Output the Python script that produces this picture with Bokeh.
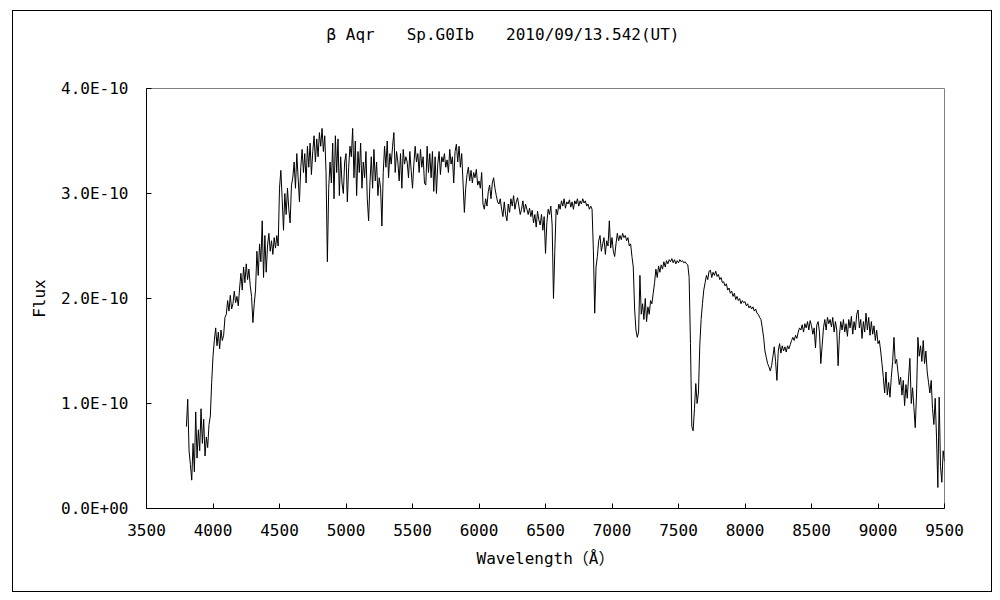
from bokeh.plotting import figure
from bokeh.models import FixedTicker, CustomJSTickFormatter, Range1d, Title
from bokeh.embed import file_html
from bokeh.resources import INLINE

# ---------------- data ----------------
title_text = "β Aqr\u3000\u3000Sp.G0Ib\u3000\u30002010/09/13.542(UT)"
x_label = "Wavelength（Å）"
y_label = "Flux"

x_ticks = [3500, 4000, 4500, 5000, 5500, 6000, 6500, 7000, 7500, 8000, 8500, 9000, 9500]
y_ticks = [0.0, 1e-10, 2e-10, 3e-10, 4e-10]

# sampling grid of the spectrum (Angstrom), 10 A steps
wavelength = list(range(3800, 9501, 10))

# flux in units of 1e-10, one row per 100 A starting at the value in the comment
flux_e10 = [
    0.78, 1.04, 0.55, 0.42, 0.27, 0.62, 0.35, 0.92, 0.48, 0.75,  # 3800
    0.55, 0.95, 0.62, 0.85, 0.50, 0.68, 0.58, 0.80, 0.88, 1.20,  # 3900
    1.45, 1.60, 1.72, 1.55, 1.68, 1.52, 1.70, 1.60, 1.65, 1.82,  # 4000
    1.85, 1.98, 1.88, 2.03, 1.90, 1.95, 2.07, 1.96, 2.02, 1.93,  # 4100
    2.10, 2.24, 2.08, 2.30, 2.15, 2.33, 2.18, 2.28, 2.12, 2.02,  # 4200
    1.77, 1.95, 2.08, 2.45, 2.22, 2.52, 2.35, 2.74, 2.20, 2.60,  # 4300
    2.25, 2.50, 2.62, 2.45, 2.55, 2.42, 2.58, 2.48, 2.60, 2.50,  # 4400
    3.05, 3.22, 2.95, 2.65, 3.00, 2.80, 3.05, 2.85, 2.72, 3.08,  # 4500
    3.15, 3.30, 3.05, 3.38, 3.15, 2.92, 3.25, 3.42, 3.20, 3.38,  # 4600
    3.10, 3.45, 3.25, 3.48, 3.18, 3.40, 3.55, 3.30, 3.52, 3.35,  # 4700
    3.58, 3.45, 3.62, 3.40, 3.55, 3.20, 2.35, 3.05, 3.30, 3.10,  # 4800
    3.48, 2.95, 3.55, 3.20, 3.52, 2.98, 3.35, 3.10, 3.00, 3.30,  # 4900
    3.38, 2.92, 3.25, 3.45, 3.35, 3.62, 3.15, 3.50, 2.98, 3.40,  # 5000
    3.20, 3.48, 3.05, 3.30, 3.15, 3.40, 2.95, 2.74, 3.10, 3.35,  # 5100
    3.05, 3.42, 3.12, 3.30, 2.98, 3.15, 3.05, 2.69, 3.20, 3.45,  # 5200
    3.25, 3.50, 3.15, 3.38, 3.28, 3.45, 3.58, 3.20, 3.40, 3.30,  # 5300
    3.12, 3.38, 3.05, 3.42, 3.28, 3.35, 3.30, 3.15, 3.40, 3.22,  # 5400
    3.05, 3.28, 3.45, 3.30, 3.38, 3.20, 3.42, 3.25, 3.35, 3.10,  # 5500
    3.08, 3.45, 3.20, 3.38, 3.15, 3.40, 3.02, 3.35, 3.00, 3.28,  # 5600
    3.40, 3.18, 3.35, 3.30, 3.38, 3.25, 3.32, 3.20, 3.42, 3.28,  # 5700
    3.35, 3.10, 3.40, 3.47, 3.30, 3.45, 3.25, 3.38, 3.10, 2.82,  # 5800
    3.05, 3.18, 3.25, 3.12, 3.22, 3.10, 3.20, 3.15, 3.23, 3.08,  # 5900
    3.12, 3.05, 3.20, 2.90, 2.85, 2.95, 2.88, 3.02, 3.08, 2.95,  # 6000
    3.10, 3.15, 3.05, 2.98, 2.92, 2.90, 2.95, 2.85, 2.78, 2.92,  # 6100
    2.80, 2.74, 2.90, 2.82, 2.95, 2.88, 2.98, 2.85, 2.92, 2.96,  # 6200
    2.88, 2.80, 2.85, 2.93, 2.82, 2.90, 2.85, 2.80, 2.86, 2.78,  # 6300
    2.84, 2.72, 2.80, 2.68, 2.83, 2.75, 2.70, 2.80, 2.65, 2.78,  # 6400
    2.43, 2.72, 2.85, 2.80, 2.88, 2.70, 2.00, 2.45, 2.85, 2.80,  # 6500
    2.90, 2.85, 2.93, 2.88, 2.95, 2.86, 2.92, 2.90, 2.94, 2.87,  # 6600
    2.92, 2.85, 2.93, 2.90, 2.95, 2.88, 2.93, 2.90, 2.95, 2.91,  # 6700
    2.93, 2.88, 2.90, 2.85, 2.88, 2.85, 2.46, 1.86, 2.30, 2.40,  # 6800
    2.55, 2.60, 2.45, 2.52, 2.58, 2.42, 2.55, 2.50, 2.74, 2.48,  # 6900
    2.58, 2.45, 2.40, 2.52, 2.62, 2.55, 2.60, 2.56, 2.62, 2.58,  # 7000
    2.60, 2.55, 2.58, 2.50, 2.52, 2.40, 2.30, 1.90, 1.70, 1.63,  # 7100
    1.68, 2.22, 1.85, 1.95, 1.80, 2.00, 1.78, 1.92, 1.85, 1.98,  # 7200
    1.95, 2.05, 2.15, 2.28, 2.20, 2.31, 2.25, 2.32, 2.28, 2.35,  # 7300
    2.30, 2.36, 2.33, 2.37, 2.35, 2.38, 2.34, 2.37, 2.33, 2.36,  # 7400
    2.34, 2.37, 2.35, 2.36, 2.34, 2.35, 2.33, 2.32, 2.20, 1.57,  # 7500
    0.78, 0.74, 0.95, 1.19, 1.00, 1.10, 1.55, 1.80, 1.95, 2.08,  # 7600
    2.15, 2.22, 2.18, 2.26, 2.27, 2.20, 2.25, 2.22, 2.26, 2.21,  # 7700
    2.23, 2.18, 2.20, 2.15, 2.16, 2.12, 2.14, 2.08, 2.10, 2.05,  # 7800
    2.07, 2.02, 2.05, 1.99, 2.02, 1.98, 2.00, 1.95, 1.98, 1.96,  # 7900
    1.97, 1.93, 1.95, 1.91, 1.93, 1.90, 1.92, 1.88, 1.90, 1.86,  # 8000
    1.85, 1.82, 1.80, 1.72, 1.63, 1.50, 1.44, 1.38, 1.35, 1.31,  # 8100
    1.36, 1.45, 1.54, 1.40, 1.22, 1.50, 1.57, 1.48, 1.55, 1.50,  # 8200
    1.54, 1.49, 1.55, 1.52, 1.56, 1.60, 1.63, 1.60, 1.65, 1.62,  # 8300
    1.68, 1.72, 1.70, 1.75, 1.68, 1.76, 1.72, 1.78, 1.70, 1.79,  # 8400
    1.74, 1.66, 1.72, 1.53, 1.75, 1.78, 1.68, 1.38, 1.55, 1.72,  # 8500
    1.80, 1.70, 1.82, 1.76, 1.80, 1.73, 1.82, 1.68, 1.78, 1.70,  # 8600
    1.36, 1.65, 1.78, 1.70, 1.80, 1.68, 1.76, 1.64, 1.80, 1.72,  # 8700
    1.83, 1.66, 1.78, 1.70, 1.85, 1.89, 1.72, 1.80, 1.62, 1.78,  # 8800
    1.68, 1.86, 1.70, 1.82, 1.65, 1.78, 1.66, 1.74, 1.60, 1.70,  # 8900
    1.57, 1.60, 1.50, 1.38, 1.25, 1.10, 1.30, 1.08, 1.20, 1.06,  # 9000
    1.25, 1.40, 1.63, 1.38, 1.42, 1.30, 1.18, 1.25, 1.08, 1.22,  # 9100
    0.98, 1.18, 1.05, 1.25, 1.43, 1.00, 1.15, 0.96, 0.77, 1.10,  # 9200
    1.63, 1.45, 1.55, 1.40, 1.60, 1.38, 1.50, 1.30, 1.20, 1.10,  # 9300
    1.22, 0.95, 0.80, 1.05, 0.68, 0.20, 1.06, 0.40, 0.25, 0.55,  # 9400
    0.45,                                                        # 9500
]
flux = [v * 1e-10 for v in flux_e10]

# ---------------- figure ----------------
FONT = "DejaVu Sans Mono, Noto Sans CJK JP, monospace"

p = figure(width=980, height=582, output_backend="svg", toolbar_location=None,
           x_range=Range1d(3500, 9500), y_range=Range1d(0, 4e-10),
           min_border_left=134, min_border_right=48,
           min_border_top=78, min_border_bottom=84,
           background_fill_color="white", border_fill_color=None,
           margin=(10, 0, 0, 12))
# outer chart border (drawn by the page around the figure element)
p.styles = {"outline": "1px solid black", "outline-offset": "-1px"}

# empty spacer between the title and the plot frame
p.add_layout(Title(text=" ", text_font_size="1px", standoff=40), "above")

p.title.text = title_text
p.title.align = "left"
p.title.vertical_align = "top"
p.title.offset = 180
p.title.standoff = 0
p.title.text_font = FONT
p.title.text_font_size = "16px"
p.title.text_font_style = "normal"
p.title.text_color = "black"

p.grid.visible = False
p.outline_line_color = "#808080"
p.outline_line_width = 1

for ax in (p.xaxis[0], p.yaxis[0]):
    ax.axis_line_color = "black"
    ax.major_tick_in = 5
    ax.major_tick_out = 0
    ax.major_tick_line_color = "black"
    ax.minor_tick_line_color = None
    ax.major_label_text_font = FONT
    ax.major_label_text_font_size = "16px"
    ax.major_label_text_color = "black"
    ax.axis_label_text_font = FONT
    ax.axis_label_text_font_size = "16px"
    ax.axis_label_text_font_style = "normal"
    ax.axis_label_text_color = "black"

p.xaxis.ticker = FixedTicker(ticks=x_ticks)
p.yaxis.ticker = FixedTicker(ticks=y_ticks)
p.xaxis.major_label_standoff = 15
p.yaxis.major_label_standoff = 18
p.xaxis.axis_label = x_label
p.yaxis.axis_label = y_label
p.xaxis.axis_label_standoff = 10
p.yaxis.axis_label_standoff = 9
p.yaxis.formatter = CustomJSTickFormatter(code="""
if (Math.abs(tick) < 1e-20) { return "0.0E+00"; }
const e = Math.floor(Math.log10(Math.abs(tick)) + 1e-9);
const m = tick / Math.pow(10, e);
const es = (e < 0 ? "-" : "+") + String(Math.abs(e)).padStart(2, "0");
return m.toFixed(1) + "E" + es;
""")

p.line(wavelength, flux, line_color="black", line_width=1)

open("out.html", "w").write(file_html(p, INLINE))
